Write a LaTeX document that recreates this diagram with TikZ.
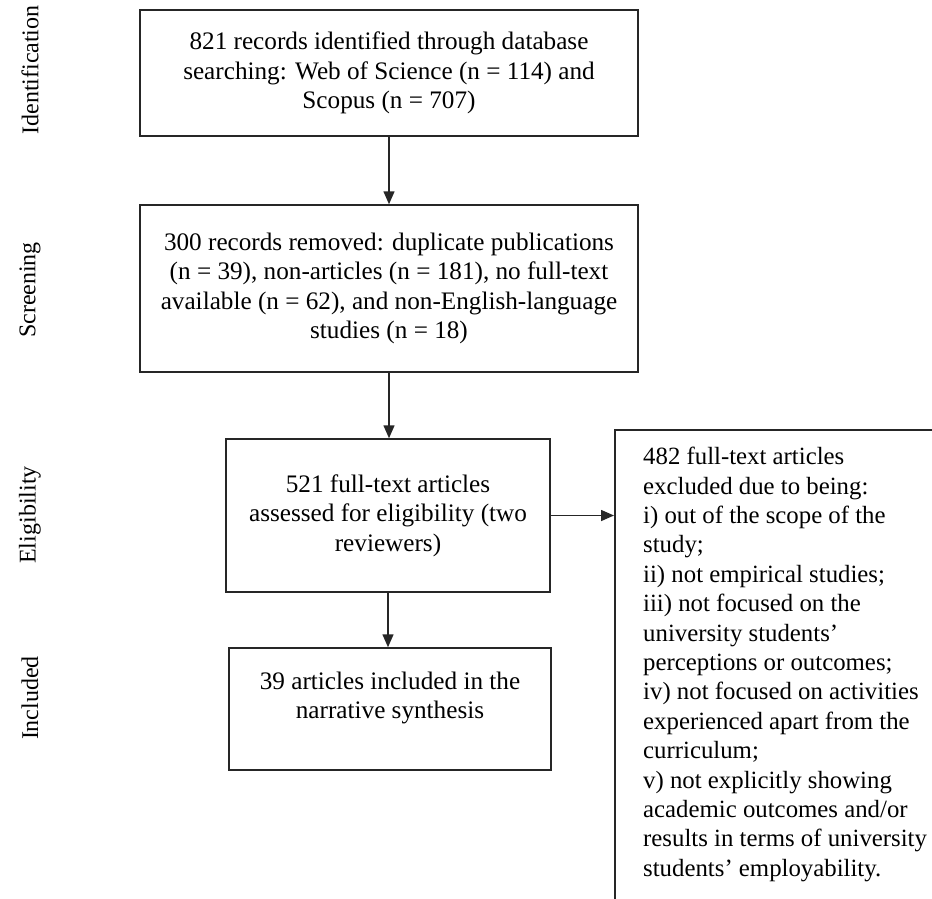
\documentclass[tikz,border=0pt]{standalone}
\usepackage{fontspec}
\setmainfont{Liberation Serif}
\usetikzlibrary{arrows.meta}
\begin{document}
\begin{tikzpicture}[x=1pt,y=-1pt,
  txt/.style={align=center, inner sep=0pt, font=\fontsize{25.2}{29.4}\selectfont},
  box/.style={draw=black!85, line width=1.5pt, txt},
  lab/.style={rotate=90, inner sep=0pt, font=\fontsize{24}{29}\selectfont},
  arr/.style={-{Triangle[length=13pt,width=11pt]}, line width=1.5pt, draw=black!85}]
\clip (0,0) rectangle (932,898);
\node[box, minimum width=498pt, minimum height=126pt] (b1) at (389,73)
  {821 records identified through database\\searching: Web of Science (n = 114) and\\Scopus (n = 707)};
\node[box, minimum width=498pt, minimum height=167pt] (b2) at (389,288.5)
  {300 records removed: duplicate publications\\(n = 39), non-articles (n = 181), no full-text\\available (n = 62), and non-English-language\\studies (n = 18)};
\node[box, minimum width=324pt, minimum height=153pt] (b3) at (388,515.5)
  {521 full-text articles\\assessed for eligibility (two\\reviewers)};
\node[box, minimum width=322pt, minimum height=122pt] (b4) at (390,709) {};
\node[txt] (b4text) at (390,698) {39 articles included in the\\narrative synthesis};
\node[box, anchor=north west, minimum width=360pt, minimum height=500pt] (rframe) at (614,429) {};
\node[anchor=north west, align=left, inner sep=0pt, font=\fontsize{24.8}{29.4}\selectfont] (rtext) at (643,447)
  {482 full-text articles\\excluded due to being:\\i) out of the scope of the\\study;\\ii) not empirical studies;\\iii) not focused on the\\university students’\\perceptions or outcomes;\\iv) not focused on activities\\experienced apart from the\\curriculum;\\v) not explicitly showing\\academic outcomes and/or\\results in terms of university\\students’ employability.};
\node[lab] (l1) at (30,70) {Identification};
\node[lab] (l2) at (30,290) {Screening};
\node[lab] (l3) at (30,515) {Eligibility};
\node[lab] (l4) at (30,698) {Included};
\draw[arr] (b1.south) -- (b2.north);
\draw[arr] (b2.south) -- (b2.south |- b3.north);
\draw[arr] (b3.south) -- (b3.south |- b4.north);
\draw[arr] (b3.east) -- (b3.east -| rframe.west);
\end{tikzpicture}
\end{document}
